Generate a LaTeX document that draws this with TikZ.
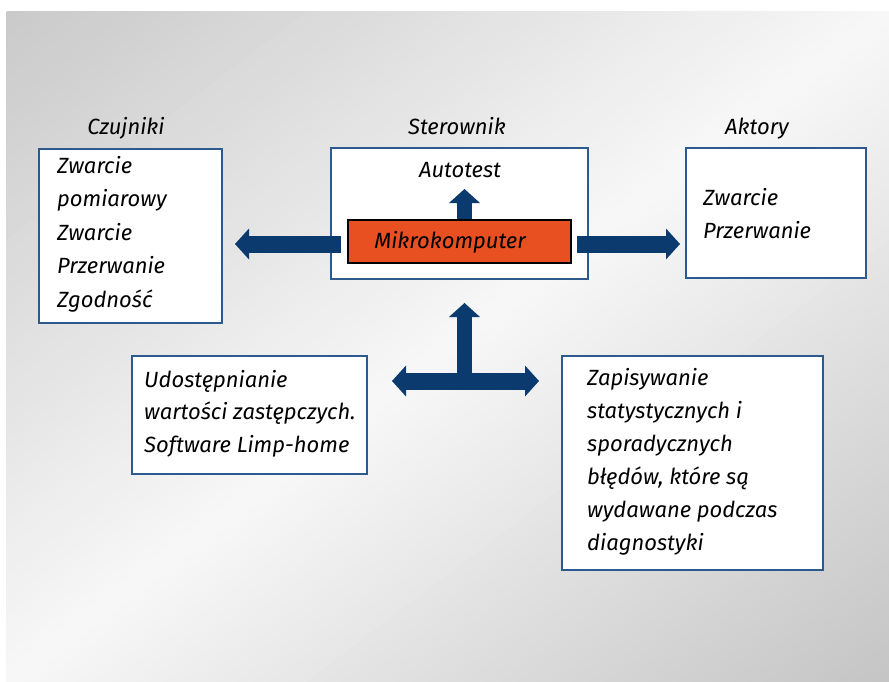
\documentclass[tikz,border=0pt]{standalone}
\usepackage{fontspec}
\setmainfont{Fira Sans}
\usetikzlibrary{arrows.meta}
\definecolor{navy}{HTML}{0B3A6E}
\definecolor{boxblue}{HTML}{2B5B8E}
\definecolor{mikro}{HTML}{E84F21}
\begin{document}
\begin{tikzpicture}[x=1pt,y=-1pt,
  box/.style={draw=boxblue, line width=1.3pt, fill=white, inner sep=0pt},
  txt/.style={font=\fontsize{22}{33.5}\selectfont\itshape, align=left, inner sep=0pt, anchor=base west},
  lbl/.style={font=\fontsize{22}{26}\selectfont\itshape, inner sep=0pt, anchor=base},
  barrow/.style={draw=navy, line width=17pt, -{Triangle[length=14pt,width=31pt,line width=0pt]}},
  sarrow/.style={draw=navy, line width=15pt, -{Triangle[length=14pt,width=31pt,line width=0pt]}}]
\useasboundingbox (0,0) rectangle (889,682);
\fill[white] (0,0) rectangle (889,682);
% diagonal gradient background built from bands
\begin{scope}
\clip (6,12) rectangle (889,682);
\begin{scope}[shift={(6,12)}, x=883pt, y=-670pt]
\foreach \i in {0,...,99} {
  \pgfmathsetmacro{\ca}{\i/50}
  \pgfmathsetmacro{\cb}{(\i+1.4)/50}
  \pgfmathsetmacro{\tval}{(\i+0.5)/100}
  \pgfmathsetmacro{\kval}{\tval<0.5 ? 21-36*\tval : 3+40*(\tval-0.5)}
  \fill[black!\kval] (\ca+2,-2) -- (\ca-2,2) -- (\cb-2,2) -- (\cb+2,-2) -- cycle;
}
\end{scope}
\end{scope}

% boxes
\node[box, minimum width=183pt, minimum height=174pt] (czu) at (130.5,236) {};
\node[box, minimum width=257pt, minimum height=131pt] (ster) at (459.5,213.5) {};
\node[box, minimum width=180pt, minimum height=130pt] (akt) at (776,213) {};
\node[box, minimum width=235pt, minimum height=118pt] (udo) at (249.5,415) {};
\node[box, minimum width=261pt, minimum height=214pt] (zap) at (692.5,463) {};

% labels
\node[lbl] (lczu) at (126,135) {Czujniki};
\node[lbl] (lster) at (457,135) {Sterownik};
\node[lbl] (lakt) at (757,135) {Aktory};

% texts (base = last line)
\node[txt] (tczu) at (57,307) {Zwarcie\\pomiarowy\\Zwarcie\\Przerwanie\\Zgodność};
\node[txt, font=\fontsize{22}{33}\selectfont\itshape] (takt) at (703,238) {Zwarcie\\Przerwanie};
\node[txt, font=\fontsize{22}{32.5}\selectfont\itshape] (tudo) at (144,452) {Udostępnianie\\wartości zastępczych.\\Software Limp-home};
\node[txt, font=\fontsize{22}{33}\selectfont\itshape] (tzap) at (587,550) {Zapisywanie\\statystycznych i\\sporadycznych\\błędów, które są\\wydawane podczas\\diagnostyki};
\node[lbl] (auto) at (460,177) {Autotest};

% arrow coordinates
\coordinate (lstart) at (341,244);
\coordinate (ltip) at (235,244);
\coordinate (rstart) at (577,244);
\coordinate (rtip) at (680,244);
\coordinate (ustart) at (464.5,222);
\coordinate (utip) at (464.5,189);
\coordinate (tj) at (464.5,381);
\coordinate (ttop) at (464.5,303);
\coordinate (tl) at (392,381);
\coordinate (tr) at (539,381);

\draw[barrow] (lstart) -- (ltip);
\draw[barrow] (rstart) -- (rtip);
\draw[sarrow] (ustart) -- (utip);
\draw[sarrow] (tj) -- (ttop);
\draw[barrow, {Triangle[length=14pt,width=31pt,line width=0pt]}-{Triangle[length=14pt,width=31pt,line width=0pt]}] (tl) -- (tr);

% Mikrokomputer
\node[draw=black, line width=1.2pt, fill=mikro, minimum width=223pt, minimum height=43pt, inner sep=0pt] (mk) at (459.5,241.5) {};
\node[lbl] (tmk) at (450,248) {Mikrokomputer};
\end{tikzpicture}
\end{document}
